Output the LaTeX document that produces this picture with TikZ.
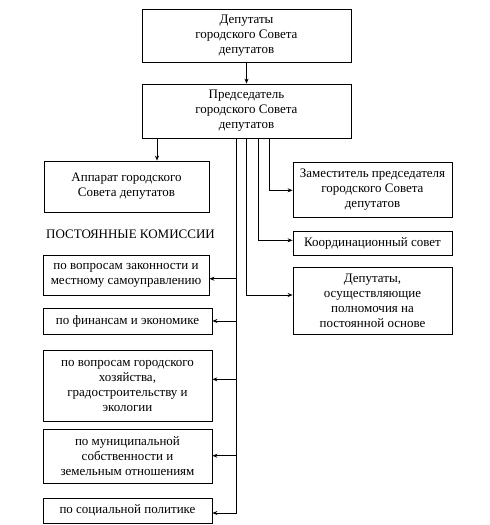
\documentclass[tikz,border=0pt]{standalone}
\usepackage{fontspec}
\setmainfont{Liberation Serif}
\usetikzlibrary{arrows.meta}
\begin{document}
\begin{tikzpicture}[x=1pt,y=-1pt,
  box/.style={draw,line width=0.8pt,inner sep=0pt,align=center,font=\fontsize{13}{15}\selectfont},
  conn/.style={line width=0.8pt},
  arr/.style={line width=0.8pt,-{Stealth[length=5pt,width=4pt]}}]
\useasboundingbox (0,0) rectangle (490,525);
% boxes
\node[box,minimum width=209,minimum height=53] (dep1) at (246.5,35.5) {Депутаты\\городского Совета\\депутатов};
\node[box,minimum width=209,minimum height=54] (pred) at (246.5,111) {Председатель\\городского Совета\\депутатов};
\node[box,minimum width=165,minimum height=51] (app) at (126.5,186.5) {Аппарат городского\\Совета депутатов};
\node[box,minimum width=159,minimum height=55] (zam) at (372.5,189.5) {Заместитель председателя\\городского Совета\\депутатов};
\node[box,minimum width=159,minimum height=24] (koord) at (372.5,243) {Координационный совет};
\node[box,minimum width=159,minimum height=67] (depp) at (372.5,300.5) {Депутаты,\\осуществляющие\\полномочия на\\постоянной основе};
\node[font=\fontsize{13}{15}\selectfont,anchor=west,inner sep=0pt] (head) at (46,234) {ПОСТОЯННЫЕ КОМИССИИ};
\node[box,minimum width=166,minimum height=40] (zak) at (126,275) {по вопросам законности и\\местному самоуправлению};
\node[box,minimum width=169,minimum height=26] (fin) at (127.5,321) {по финансам и экономике};
\node[box,minimum width=169,minimum height=71] (gor) at (127.5,385.5) {по вопросам городского\\хозяйства,\\градостроительству и\\экологии};
\node[box,minimum width=169,minimum height=54] (mun) at (127.5,456) {по муниципальной\\собственности и\\земельным отношениям};
\node[box,minimum width=169,minimum height=25] (soc) at (127.5,510.5) {по социальной политике};
% connectors
\draw[arr] (dep1.south) -- (pred.north);
\coordinate (ta) at (157,138);
\draw[arr] (ta) -- (ta |- app.north);
% left trunk
\coordinate (t1) at (236.5,138);
\coordinate (j1) at (236.5,278.7);
\coordinate (j2) at (236.5,321);
\coordinate (j3) at (236.5,379.3);
\coordinate (j4) at (236.5,455.7);
\coordinate (j5) at (236.5,513);
\draw[conn] (t1) -- (j5);
\draw[arr] (j1) -- (j1 -| zak.east);
\draw[arr] (j2) -- (j2 -| fin.east);
\draw[arr] (j3) -- (j3 -| gor.east);
\draw[arr] (j4) -- (j4 -| mun.east);
\draw[arr] (j5) -- (j5 -| soc.east);
% right trunks
\coordinate (t2) at (246,138);
\coordinate (k2) at (246,295);
\draw[arr] (t2) -- (k2) -- (k2 -| depp.west);
\coordinate (t3) at (258,138);
\coordinate (k3) at (258,240.3);
\draw[arr] (t3) -- (k3) -- (k3 -| koord.west);
\coordinate (t4) at (269,138);
\coordinate (k4) at (269,190.3);
\draw[arr] (t4) -- (k4) -- (k4 -| zam.west);
\end{tikzpicture}
\end{document}
